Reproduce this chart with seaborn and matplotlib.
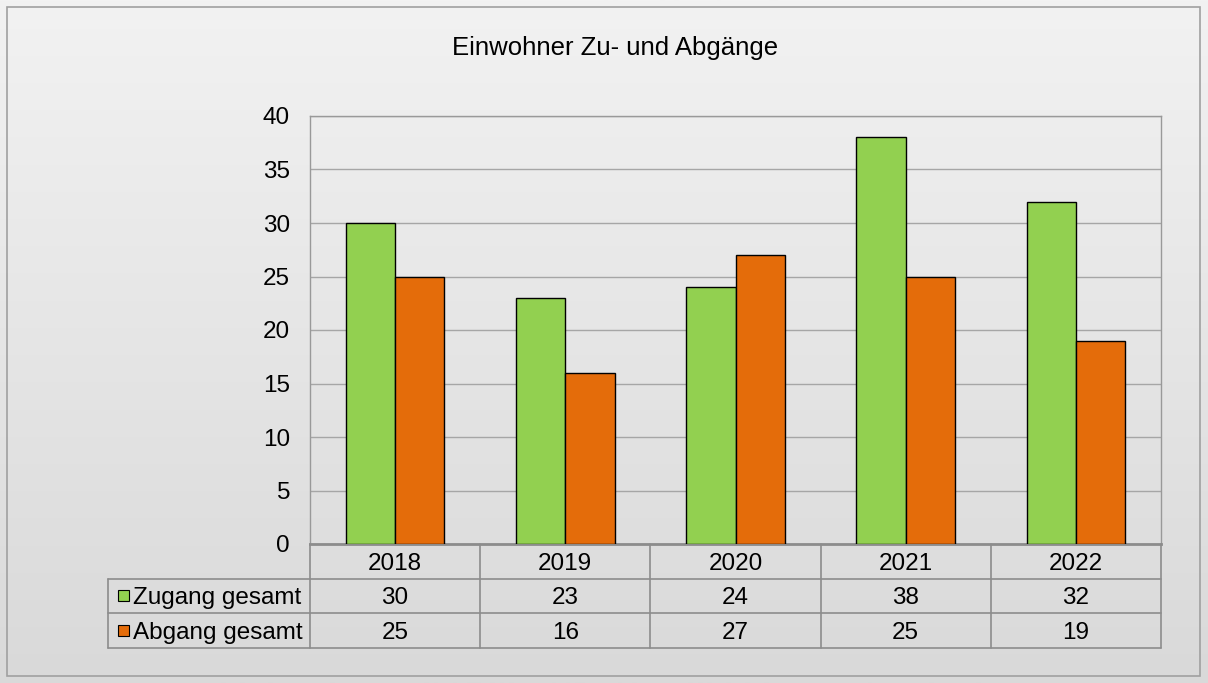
import numpy as np
import pandas as pd
import matplotlib.pyplot as plt
import matplotlib.patches as mpatches
import seaborn as sns

# --- data ---
jahre = ["2018", "2019", "2020", "2021", "2022"]
zugang = [30, 23, 24, 38, 32]
abgang = [25, 16, 27, 25, 19]
serien = ["Zugang gesamt", "Abgang gesamt"]
farben = ["#92d050", "#e46c0a"]
titel = "Einwohner Zu- und Abgänge"
y_ticks = [0, 5, 10, 15, 20, 25, 30, 35, 40]

df = pd.DataFrame({
    "Jahr": jahre * 2,
    "Wert": zugang + abgang,
    "Serie": [serien[0]] * len(jahre) + [serien[1]] * len(jahre),
})

sns.set_theme(style="white")
plt.rcParams["font.family"] = ["Liberation Sans", "DejaVu Sans"]
plt.rcParams["text.color"] = "black"
plt.rcParams["ytick.color"] = "black"
plt.rcParams["ytick.labelcolor"] = "black"
fs = 17.5

W, H = 1208, 683
fig = plt.figure(figsize=(W / 100, H / 100), dpi=100)

# gradient background
bg = fig.add_axes([0, 0, 1, 1], zorder=-10)
grad = np.linspace(0, 1, 256).reshape(-1, 1)
bg.imshow(grad, aspect="auto", cmap=plt.matplotlib.colors.LinearSegmentedColormap.from_list(
    "g", ["#f2f2f2", "#d9d9d9"]), extent=[0, 1, 0, 1], origin="upper")
bg.set_xlim(0, 1)
bg.set_ylim(0, 1)
bg.axis("off")
bg.add_patch(mpatches.Rectangle((7 / W, 1 - 676 / H), 1193 / W, 669 / H, fill=False,
                                edgecolor="#a0a0a0", linewidth=1.2))


def fx(px):
    return px / W


def fy(py):
    return 1 - py / H


left, right, top, bottom = 310, 1161, 116, 544
ax = fig.add_axes([fx(left), fy(bottom), fx(right) - fx(left), fy(top) - fy(bottom)])
ax.set_facecolor("none")

sns.barplot(data=df, x="Jahr", y="Wert", hue="Serie", palette=farben, width=0.58,
            saturation=1, edgecolor="black", linewidth=1, ax=ax, legend=False, zorder=3)

ax.set_ylim(0, 40)
ax.set_xlim(-0.5, len(jahre) - 0.5)
ax.set_yticks(y_ticks)
ax.set_yticklabels([str(t) for t in y_ticks], fontsize=fs, color="black")
ax.tick_params(axis="y", length=0, pad=14.4)
ax.set_xticks([])
ax.set_xlabel("")
ax.set_ylabel("")
ax.yaxis.grid(True, color="#a6a6a6", linewidth=1)
ax.set_axisbelow(True)
for s in ["left", "right", "top"]:
    ax.spines[s].set_color("#999999")
    ax.spines[s].set_linewidth(1)
ax.spines["bottom"].set_color("#8c8c8c")
ax.spines["bottom"].set_linewidth(2)

fig.text(fx(615), fy(48), titel, ha="center", va="center", fontsize=18.5, color="black")

# --- data table ---
rows = [544, 578.5, 613, 648]
col_w = (right - left) / len(jahre)
cols = [left + i * col_w for i in range(len(jahre) + 1)]
lab_left = 108
lc = "#8c8c8c"
for y in rows[1:]:
    bg.plot([fx(lab_left), fx(right)], [fy(y), fy(y)], color=lc, linewidth=1.2)
for x in cols:
    bg.plot([fx(x), fx(x)], [fy(rows[0]), fy(rows[-1])], color=lc, linewidth=1.2)
bg.plot([fx(lab_left), fx(lab_left)], [fy(rows[1]), fy(rows[-1])], color=lc, linewidth=1.2)

dy = 2.5  # small downward offset so digits sit like in the original
for i, j in enumerate(jahre):
    cx = (cols[i] + cols[i + 1]) / 2
    fig.text(fx(cx), fy((rows[0] + rows[1]) / 2 + dy), j, ha="center", va="center",
             fontsize=fs, color="black")
    for r, werte in enumerate([zugang, abgang]):
        fig.text(fx(cx), fy((rows[r + 1] + rows[r + 2]) / 2 + dy), str(werte[i]),
                 ha="center", va="center", fontsize=fs, color="black")

for r, (name, farbe) in enumerate(zip(serien, farben)):
    cy = (rows[r + 1] + rows[r + 2]) / 2
    bg.add_patch(mpatches.Rectangle((fx(118), fy(cy + 5.5)), 11 / W, 11 / H,
                                    facecolor=farbe, edgecolor="black", linewidth=0.8))
    fig.text(fx(133), fy(cy + dy), name, ha="left", va="center", fontsize=fs, color="black")

fig.savefig("out.png", dpi=100)
